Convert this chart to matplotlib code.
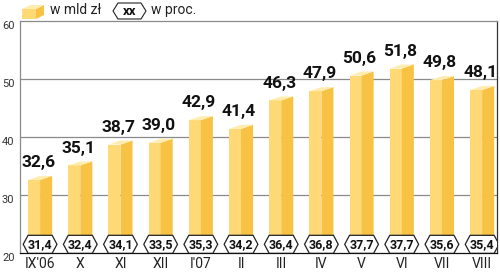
import matplotlib
matplotlib.use("Agg")
import matplotlib.pyplot as plt
from matplotlib.patches import Polygon
import numpy as np

categories = ["IX'06", "X", "XI", "XII", "I'07", "II", "III", "IV", "V", "VI", "VII", "VIII"]
values_bln = [32.6, 35.1, 38.7, 39.0, 42.9, 41.4, 46.3, 47.9, 50.6, 51.8, 49.8, 48.1]
values_pct = [31.4, 32.4, 34.1, 33.5, 35.3, 34.2, 36.4, 36.8, 37.7, 37.7, 35.6, 35.4]
yticks = [20, 30, 40, 50, 60]

def fmt(v):
    return f"{v:.1f}".replace(".", ",")

plt.rcParams['font.family'] = ['Roboto', 'DejaVu Sans']

FRONT = '#FFD976'
SIDE = '#F8C244'
TOP = '#FFEDB0'

fig = plt.figure(figsize=(5.0, 2.74), dpi=100)
ax = fig.add_axes([0.04, 1 - 253/274, 0.954, (253-21)/274])
ax.set_ylim(20, 60)
ax.set_xlim(-0.5, 11.37)

x = np.arange(len(categories))
fw = 0.3   # front width
dx = 0.3   # depth offset x
dy = 0.7   # depth offset y
base = 20

for yv in [30, 40, 50]:
    ax.axhline(yv, color='#8a8a8a', lw=0.9, zorder=1)

ax.bar(x - fw, [v - base for v in values_bln], width=fw, bottom=base, align='edge',
       color=FRONT, edgecolor='none', zorder=2)
for xi, v in zip(x, values_bln):
    x0, x1 = xi - fw, xi
    side = Polygon([(x1, base), (x1 + dx, base + dy), (x1 + dx, v + dy), (x1, v)],
                   closed=True, facecolor=SIDE, edgecolor='none', zorder=2)
    top = Polygon([(x0, v), (x1, v), (x1 + dx, v + dy), (x0 + dx, v + dy)],
                  closed=True, facecolor=TOP, edgecolor='none', zorder=2)
    ax.add_patch(side)
    ax.add_patch(top)
    ax.text(xi - 0.05, v + dy + 1.0, fmt(v), ha='center', va='bottom', fontsize=12.5,
            fontweight='bold', color='#111111', zorder=4)

# hexagon labels
hw = 0.42
hh = 1.55
hp = 0.12
hy = 21.5
for xi, p in zip(x, values_pct):
    hexp = Polygon([(xi - hw, hy), (xi - hw + hp, hy + hh), (xi + hw - hp, hy + hh),
                    (xi + hw, hy), (xi + hw - hp, hy - hh), (xi - hw + hp, hy - hh)],
                   closed=True, facecolor='white', edgecolor='#222222', lw=0.9, zorder=5)
    ax.add_patch(hexp)
    ax.text(xi, hy - 0.1, fmt(p), ha='center', va='center', fontsize=9,
            fontweight='bold', color='#111111', zorder=6)

ax.set_xticks(x)
ax.set_xticklabels(categories, fontsize=10, color='#222222')
ax.set_yticks(yticks)
ax.set_yticklabels([str(t) for t in yticks], fontsize=8, color='#333333')
ax.tick_params(axis='both', length=0)
ax.tick_params(axis='x', pad=3)
ax.tick_params(axis='y', pad=4)
for lab in ax.get_yticklabels():
    lab.set_verticalalignment('top')

ax.spines['top'].set_color('#8a8a8a')
ax.spines['left'].set_color('#8a8a8a')
ax.spines['right'].set_color('#333333')
ax.spines['bottom'].set_color('#111111')
for s in ax.spines.values():
    s.set_linewidth(0.9)

# legend (figure coordinates in pixels)
def px(xp, yp):
    return (xp / 500, 1 - yp / 274)

cube_front = Polygon([px(22, 9), px(36, 9), px(36, 19), px(22, 19)], closed=True,
                     transform=fig.transFigure, facecolor=FRONT, edgecolor='none')
cube_side = Polygon([px(36, 9), px(44, 5), px(44, 15), px(36, 19)], closed=True,
                    transform=fig.transFigure, facecolor=SIDE, edgecolor='none')
cube_top = Polygon([px(22, 9), px(30, 5), px(44, 5), px(36, 9)], closed=True,
                   transform=fig.transFigure, facecolor=TOP, edgecolor='none')
for p in (cube_front, cube_side, cube_top):
    fig.patches.append(p)
fig.text(*px(50, 10), "w mld zł", fontsize=10, va='center', ha='left', color='#222222')

hexl = Polygon([px(113, 11), px(118, 3), px(141, 3), px(146, 11), px(141, 19), px(118, 19)],
               closed=True, transform=fig.transFigure, facecolor='white',
               edgecolor='#222222', lw=0.8)
fig.patches.append(hexl)
fig.text(*px(129.5, 11.5), "xx", fontsize=9.5, fontweight='bold', va='center', ha='center',
         color='#111111')
fig.text(*px(151, 10), "w proc.", fontsize=10, va='center', ha='left', color='#222222')

fig.savefig('out.png', dpi=100)
